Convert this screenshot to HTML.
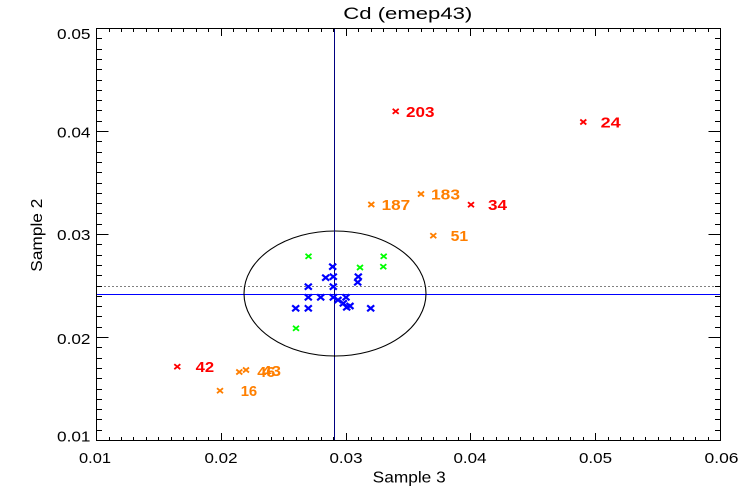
<!DOCTYPE html>
<html><head><meta charset="utf-8"><style>
html,body{margin:0;padding:0;background:#fff;}
svg{display:block;}
text{font-family:"Liberation Sans",sans-serif;}
</style></head><body>
<svg width="750" height="500" viewBox="0 0 750 500" xmlns="http://www.w3.org/2000/svg">
<defs>
<path id="ms" d="M-3 -2.5L3 2.5M-3 2.5L3 -2.5" fill="none" stroke-width="1.8"/>
<path id="mb" d="M-3.5 -3L3.5 3M-3.5 3L3.5 -3" fill="none" stroke-width="2.2"/>
</defs>
<rect width="750" height="500" fill="#fff"/>
<!-- reference lines -->
<g shape-rendering="crispEdges">
<line x1="96.5" y1="294.5" x2="720.5" y2="294.5" stroke="#0000ff" stroke-width="1"/>
<line x1="334.5" y1="28.5" x2="334.5" y2="440.5" stroke="#0000ff" stroke-width="1"/>
<line x1="96.5" y1="286.5" x2="720.5" y2="286.5" stroke="#000" stroke-width="1" stroke-dasharray="1 3"/>
<line x1="334.5" y1="28.5" x2="334.5" y2="440.5" stroke="#000" stroke-width="1" stroke-dasharray="1 1"/>
</g>
<ellipse cx="335" cy="293.5" rx="91" ry="62.5" fill="none" stroke="#000" stroke-width="1.1"/>
<!-- axes -->
<g shape-rendering="crispEdges" stroke="#000" stroke-width="1" fill="none">
<rect x="96.5" y="28.5" width="624" height="412"/>
<path d="M96.5 441v-8M109.5 441v-4M121.5 441v-4M133.5 441v-4M146.5 441v-4M158.5 441v-4M171.5 441v-4M183.5 441v-4M196.5 441v-4M208.5 441v-4M221.5 441v-8M233.5 441v-4M246.5 441v-4M258.5 441v-4M271.5 441v-4M283.5 441v-4M296.5 441v-4M308.5 441v-4M321.5 441v-4M333.5 441v-4M346.5 441v-8M358.5 441v-4M371.5 441v-4M383.5 441v-4M396.5 441v-4M408.5 441v-4M421.5 441v-4M433.5 441v-4M446.5 441v-4M458.5 441v-4M470.5 441v-8M483.5 441v-4M496.5 441v-4M508.5 441v-4M520.5 441v-4M533.5 441v-4M546.5 441v-4M558.5 441v-4M570.5 441v-4M583.5 441v-4M595.5 441v-8M608.5 441v-4M620.5 441v-4M633.5 441v-4M645.5 441v-4M658.5 441v-4M670.5 441v-4M683.5 441v-4M695.5 441v-4M708.5 441v-4M720.5 441v-8"/>
<path d="M96.5 28v8M109.5 28v4M121.5 28v4M133.5 28v4M146.5 28v4M158.5 28v4M171.5 28v4M183.5 28v4M196.5 28v4M208.5 28v4M221.5 28v8M233.5 28v4M246.5 28v4M258.5 28v4M271.5 28v4M283.5 28v4M296.5 28v4M308.5 28v4M321.5 28v4M333.5 28v4M346.5 28v8M358.5 28v4M371.5 28v4M383.5 28v4M396.5 28v4M408.5 28v4M421.5 28v4M433.5 28v4M446.5 28v4M458.5 28v4M470.5 28v8M483.5 28v4M496.5 28v4M508.5 28v4M520.5 28v4M533.5 28v4M546.5 28v4M558.5 28v4M570.5 28v4M583.5 28v4M595.5 28v8M608.5 28v4M620.5 28v4M633.5 28v4M645.5 28v4M658.5 28v4M670.5 28v4M683.5 28v4M695.5 28v4M708.5 28v4M720.5 28v8"/>
<path d="M96 440.5h12.5M96 430.5h6M96 419.5h6M96 409.5h6M96 399.5h6M96 389.5h6M96 378.5h6M96 368.5h6M96 358.5h6M96 347.5h6M96 337.5h12.5M96 327.5h6M96 316.5h6M96 306.5h6M96 296.5h6M96 286.5h6M96 275.5h6M96 265.5h6M96 255.5h6M96 244.5h6M96 234.5h12.5M96 224.5h6M96 213.5h6M96 203.5h6M96 193.5h6M96 183.5h6M96 172.5h6M96 162.5h6M96 152.5h6M96 141.5h6M96 131.5h12.5M96 121.5h6M96 110.5h6M96 100.5h6M96 90.5h6M96 80.5h6M96 69.5h6M96 59.5h6M96 49.5h6M96 38.5h6M96 28.5h12.5"/>
<path d="M721 440.5h-12.5M721 430.5h-6M721 419.5h-6M721 409.5h-6M721 399.5h-6M721 389.5h-6M721 378.5h-6M721 368.5h-6M721 358.5h-6M721 347.5h-6M721 337.5h-12.5M721 327.5h-6M721 316.5h-6M721 306.5h-6M721 296.5h-6M721 286.5h-6M721 275.5h-6M721 265.5h-6M721 255.5h-6M721 244.5h-6M721 234.5h-12.5M721 224.5h-6M721 213.5h-6M721 203.5h-6M721 193.5h-6M721 183.5h-6M721 172.5h-6M721 162.5h-6M721 152.5h-6M721 141.5h-6M721 131.5h-12.5M721 121.5h-6M721 110.5h-6M721 100.5h-6M721 90.5h-6M721 80.5h-6M721 69.5h-6M721 59.5h-6M721 49.5h-6M721 38.5h-6M721 28.5h-12.5"/>
</g>
<!-- tick labels -->
<g font-size="15" fill="#000">
<text x="79" y="463" textLength="32" lengthAdjust="spacingAndGlyphs">0.01</text>
<text x="204.5" y="463" textLength="33" lengthAdjust="spacingAndGlyphs">0.02</text>
<text x="329.5" y="463" textLength="33" lengthAdjust="spacingAndGlyphs">0.03</text>
<text x="453.5" y="463" textLength="33" lengthAdjust="spacingAndGlyphs">0.04</text>
<text x="579" y="463" textLength="33" lengthAdjust="spacingAndGlyphs">0.05</text>
<text x="704.5" y="463" textLength="34" lengthAdjust="spacingAndGlyphs">0.06</text>
<text x="57" y="441.3" textLength="33.5" lengthAdjust="spacingAndGlyphs">0.01</text>
<text x="57" y="344.2" textLength="33.5" lengthAdjust="spacingAndGlyphs">0.02</text>
<text x="57" y="240" textLength="33.5" lengthAdjust="spacingAndGlyphs">0.03</text>
<text x="57" y="137.3" textLength="33.5" lengthAdjust="spacingAndGlyphs">0.04</text>
<text x="57" y="39" textLength="33.5" lengthAdjust="spacingAndGlyphs">0.05</text>
</g>
<!-- titles -->
<text x="343.3" y="19" font-size="17" textLength="129" lengthAdjust="spacingAndGlyphs">Cd (emep43)</text>
<text x="372.7" y="482.3" font-size="16" textLength="73" lengthAdjust="spacingAndGlyphs">Sample 3</text>
<text transform="translate(42,271.7) rotate(-90)" x="0" y="0" font-size="16" textLength="73" lengthAdjust="spacingAndGlyphs">Sample 2</text>
<!-- blue markers -->
<g stroke="#0000ff">
<use href="#mb" x="332.7" y="266.7"/>
<use href="#mb" x="325.7" y="277.7"/>
<use href="#mb" x="333.3" y="276.7"/>
<use href="#mb" x="358.3" y="276.7"/>
<use href="#mb" x="357.7" y="282.3"/>
<use href="#mb" x="308.3" y="286.7"/>
<use href="#mb" x="333.3" y="286.7"/>
<use href="#mb" x="308.3" y="297.3"/>
<use href="#mb" x="320.7" y="297.3"/>
<use href="#mb" x="333.3" y="297.3"/>
<use href="#mb" x="338" y="300"/>
<use href="#mb" x="346" y="297.3"/>
<use href="#mb" x="343.3" y="303.3"/>
<use href="#mb" x="346.7" y="307.3"/>
<use href="#mb" x="350" y="306"/>
<use href="#mb" x="295.7" y="308.3"/>
<use href="#mb" x="308.3" y="308.3"/>
<use href="#mb" x="370.7" y="308.3"/>
</g>
<!-- green markers -->
<g stroke="#00ff00">
<use href="#ms" x="308.5" y="256.3"/>
<use href="#ms" x="383.7" y="256.3"/>
<use href="#ms" x="360" y="267.5"/>
<use href="#ms" x="383.3" y="266.7"/>
<use href="#ms" x="296" y="328.3"/>
</g>
<!-- red markers -->
<g stroke="#ff0000">
<use href="#ms" x="395.7" y="111.3"/>
<use href="#ms" x="583.3" y="122"/>
<use href="#ms" x="471" y="204.7"/>
<use href="#ms" x="177.3" y="366.7"/>
</g>
<!-- orange markers -->
<g stroke="#ff7f00">
<use href="#ms" x="421" y="194"/>
<use href="#ms" x="371.3" y="204.5"/>
<use href="#ms" x="433.3" y="235.7"/>
<use href="#ms" x="239.3" y="372"/>
<use href="#ms" x="246" y="370"/>
<use href="#ms" x="220" y="390.7"/>
</g>
<!-- data labels -->
<g font-size="15" font-weight="bold">
<g fill="#ff0000">
<text x="406" y="116.8" textLength="28.5" lengthAdjust="spacingAndGlyphs">203</text>
<text x="600.7" y="127.3" textLength="20" lengthAdjust="spacingAndGlyphs">24</text>
<text x="488" y="210" textLength="19" lengthAdjust="spacingAndGlyphs">34</text>
<text x="195.7" y="372" textLength="18.5" lengthAdjust="spacingAndGlyphs">42</text>
</g>
<g fill="#ff7f00">
<text x="431" y="199.3" textLength="29" lengthAdjust="spacingAndGlyphs">183</text>
<text x="381.7" y="210" textLength="28.5" lengthAdjust="spacingAndGlyphs">187</text>
<text x="450.7" y="241" textLength="17.5" lengthAdjust="spacingAndGlyphs">51</text>
<text x="257.3" y="377" textLength="18" lengthAdjust="spacingAndGlyphs">46</text>
<text x="262" y="376" textLength="19" lengthAdjust="spacingAndGlyphs">43</text>
<text x="240.7" y="396" textLength="16.5" lengthAdjust="spacingAndGlyphs">16</text>
</g>
</g>
</svg>
</body></html>
